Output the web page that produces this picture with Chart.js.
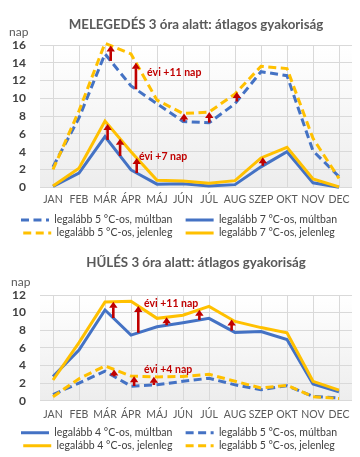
<!DOCTYPE html>
<html><head><meta charset="utf-8">
<script src="https://cdn.jsdelivr.net/npm/chart.js@4.4.1/dist/chart.umd.min.js"></script>
<style>
html,body{margin:0;padding:0;background:#fff;width:360px;height:457px;overflow:hidden;position:relative}
#w1{position:absolute;left:0;top:0;width:360px;height:250px}
#w2{position:absolute;left:0;top:250px;width:360px;height:213px}
</style></head><body>
<div id="w1"><canvas id="c1"></canvas></div>
<div id="w2"><canvas id="c2"></canvas></div>
<script>
// ---------- data ----------
const months = ['JAN','FEB','MÁR','ÁPR','MÁJ','JÚN','JÚL','AUG','SZEP','OKT','NOV','DEC'];

// MELEGEDÉS (warming within 3 hours)
const warm5Past = [2.3, 7.8, 15.0, 11.4, 9.4, 7.4, 7.25, 9.4, 13.0, 12.55, 4.1, 1.2];
const warm5Now  = [2.0, 8.6, 16.2, 15.0, 9.8, 8.3, 8.45, 10.5, 13.6, 13.35, 5.5, 1.0];
const warm7Past = [0.1, 1.6, 5.7, 1.95, 0.35, 0.4, 0.15, 0.3, 2.3, 4.0, 0.5, 0.0];
const warm7Now  = [0.15, 2.15, 7.45, 4.0, 0.8, 0.7, 0.45, 0.75, 3.3, 4.5, 0.95, 0.05];
const warmTicks = [0, 2, 4, 6, 8, 10, 12, 14, 16];

// HŰLÉS (cooling within 3 hours)
const cool4Past = [2.75, 5.75, 10.3, 7.45, 8.4, 8.85, 9.35, 7.75, 7.85, 6.95, 1.9, 1.0];
const cool4Now  = [2.35, 6.6, 11.2, 11.3, 9.35, 9.7, 10.7, 9.0, 8.3, 7.7, 2.2, 1.2];
const cool5Past = [0.7, 2.0, 3.35, 1.65, 1.8, 2.2, 2.55, 1.8, 1.25, 1.7, 0.5, 0.3];
const cool5Now  = [0.45, 2.5, 3.95, 2.8, 2.7, 2.75, 3.0, 2.2, 1.45, 1.75, 0.45, 0.25];
const coolTicks = [0, 2, 4, 6, 8, 10, 12];

// arrow positions (category index, may be fractional) – arrows go from the "múltban" line to the "jelenleg" line
const warm5Arrows = [2.22, 3.19, 5.04, 6.01, 7.07];
const warm7Arrows = [2.10, 2.58, 3.22, 8.07];
const cool4Arrows = [2.32, 3.28, 4.37, 5.63, 6.87];
const cool5Arrows = [2.35, 3.12, 3.88];

const BLUE = '#4472C4', YELLOW = '#FFC000', RED = '#C00000', GREY = '#595959';
const FONT = 'Lato, "Open Sans", sans-serif';
const DASH = [8, 4.5];

function interp(arr, x) {
  const i = Math.floor(x), f = x - i;
  const j = Math.min(i + 1, arr.length - 1);
  return arr[i] + (arr[j] - arr[i]) * f;
}

const extrasPlugin = {
  id: 'extras',
  beforeDraw(chart) {
    const {ctx, chartArea: a} = chart;
    const g = ctx.createLinearGradient(0, a.top, 0, a.bottom);
    g.addColorStop(0, '#FFFFFF');
    g.addColorStop(1, '#EDEDED');
    ctx.save(); ctx.fillStyle = g; ctx.fillRect(a.left, a.top, a.right - a.left, a.bottom - a.top); ctx.restore();
  },
  afterDatasetsDraw(chart, args, opts) {
    const {ctx} = chart, xs = chart.scales.x, ys = chart.scales.y;
    ctx.save();
    (opts.arrows || []).forEach(set => {
      set.at.forEach(x => {
        const px = xs.getPixelForValue(x);
        const y0 = ys.getPixelForValue(interp(set.from, x));
        const y1 = ys.getPixelForValue(interp(set.to, x));
        const head = 6, hw = 4.2;
        ctx.strokeStyle = RED; ctx.fillStyle = RED; ctx.lineWidth = 2.6; ctx.setLineDash([]);
        ctx.beginPath(); ctx.moveTo(px, y0); ctx.lineTo(px, y1 + head - 0.5); ctx.stroke();
        ctx.beginPath(); ctx.moveTo(px - hw, y1 + head); ctx.lineTo(px + hw, y1 + head); ctx.lineTo(px, y1); ctx.closePath(); ctx.fill();
      });
    });
    (opts.notes || []).forEach(n => {
      ctx.font = 'bold 10.5px ' + FONT; ctx.fillStyle = RED; ctx.textAlign = 'left'; ctx.textBaseline = 'middle';
      ctx.fillText(n.text, xs.getPixelForValue(n.x), ys.getPixelForValue(n.y));
    });
    ctx.restore();
  },
  afterDraw(chart, args, opts) {
    if (!opts.unit) return;
    const {ctx} = chart;
    ctx.save();
    ctx.font = '12px ' + FONT; ctx.fillStyle = GREY; ctx.textAlign = 'left'; ctx.textBaseline = 'middle';
    ctx.fillText(opts.unit, opts.unitX, opts.unitY);
    ctx.restore();
  }
};

function ds(label, data, color, dashed) {
  return {
    label, data, borderColor: color, backgroundColor: color, borderWidth: 3,
    borderDash: dashed ? DASH : [], pointRadius: 0, pointHoverRadius: 0, tension: 0,
    clip: false, order: color === YELLOW ? 0 : 1, borderCapStyle: 'butt', borderJoinStyle: 'miter'
  };
}

function makeChart(id, cfg) {
  return new Chart(document.getElementById(id), {
    type: 'line',
    data: { labels: months, datasets: cfg.datasets },
    options: {
      responsive: true, maintainAspectRatio: false, animation: false,
      layout: { padding: { left: 6, right: 8, top: 0, bottom: cfg.padBottom } },
      scales: {
        x: {
          offset: true,
          grid: { offset: false, color: '#D9D9D9', drawTicks: false, lineWidth: 1 },
          border: { display: false },
          ticks: { color: GREY, font: { family: FONT, size: 10.5 }, padding: cfg.xPad, maxRotation: 0, autoSkip: false },
          afterFit(s) { s.height = cfg.xHeight; }
        },
        y: {
          min: 0, max: cfg.ticks[cfg.ticks.length - 1],
          afterBuildTicks(s) { s.ticks = cfg.ticks.map(v => ({ value: v })); },
          grid: { color: '#D9D9D9', drawTicks: false },
          border: { display: false },
          ticks: { color: '#404040', font: { family: FONT, size: 12, weight: 'bold' }, padding: 14 },
          afterFit(s) { s.width = 34; }
        }
      },
      plugins: {
        title: {
          display: true, text: cfg.title, color: GREY, fullSize: false,
          font: { family: FONT, size: 13.3, weight: 'bold', lineHeight: 18 / 13.3 },
          padding: cfg.titlePad
        },
        legend: {
          display: true, position: 'bottom',
          labels: {
            usePointStyle: true, pointStyle: 'line', pointStyleWidth: 28,
            color: '#404040', font: { family: FONT, size: 10.5 }, padding: 2.5,
            sort: (a, b) => a.datasetIndex - b.datasetIndex,
            generateLabels(chart) {
              const items = Chart.defaults.plugins.legend.labels.generateLabels(chart);
              items.sort((a, b) => a.datasetIndex - b.datasetIndex);
              items.forEach((it, i) => {
                const d = chart.data.datasets[it.datasetIndex];
                it.pointStyle = 'line'; it.lineWidth = 3;
                it.strokeStyle = d.borderColor; it.fillStyle = d.borderColor;
                it.lineDash = d.borderDash; it.lineCap = 'butt';
                if (i % 2 === 0) it.text = it.text + '\u00A0\u00A0\u00A0\u00A0';
              });
              return items;
            }
          }
        },
        tooltip: { enabled: false },
        extras: cfg.extras
      }
    },
    plugins: [extrasPlugin]
  });
}

makeChart('c1', {
  title: 'MELEGEDÉS 3 óra alatt: átlagos gyakoriság',
  titlePad: { top: 15.5, bottom: 11.5 },
  ticks: warmTicks, xPad: 6.4, xHeight: 25, padBottom: 1.7,
  datasets: [
    ds('legalább 5 °C-os, múltban', warm5Past, BLUE, true),
    ds('legalább 7 °C-os, múltban', warm7Past, BLUE, false),
    ds('legalább 5 °C-os, jelenleg', warm5Now, YELLOW, true),
    ds('legalább 7 °C-os, jelenleg', warm7Now, YELLOW, false)
  ],
  extras: {
    unit: 'nap', unitX: 9, unitY: 32,
    arrows: [
      { at: warm5Arrows, from: warm5Past, to: warm5Now },
      { at: warm7Arrows, from: warm7Past, to: warm7Now }
    ],
    notes: [
      { text: 'évi +11 nap', x: 3.62, y: 12.93 },
      { text: 'évi +7 nap', x: 3.31, y: 3.4 }
    ]
  }
});

makeChart('c2', {
  title: 'HŰLÉS 3 óra alatt: átlagos gyakoriság',
  titlePad: { top: 4, bottom: 23 },
  ticks: coolTicks, xPad: 8, xHeight: 24.3, padBottom: 2,
  datasets: [
    ds('legalább 4 °C-os, múltban', cool4Past, BLUE, false),
    ds('legalább 5 °C-os, múltban', cool5Past, BLUE, true),
    ds('legalább 4 °C-os, jelenleg', cool4Now, YELLOW, false),
    ds('legalább 5 °C-os, jelenleg', cool5Now, YELLOW, true)
  ],
  extras: {
    unit: 'nap', unitX: 11, unitY: 31.7,
    arrows: [
      { at: cool4Arrows, from: cool4Past, to: cool4Now },
      { at: cool5Arrows, from: cool5Past, to: cool5Now }
    ],
    notes: [
      { text: 'évi +11 nap', x: 3.5, y: 10.98 },
      { text: 'évi +4 nap', x: 3.5, y: 3.56 }
    ]
  }
});
</script>
</body></html>
